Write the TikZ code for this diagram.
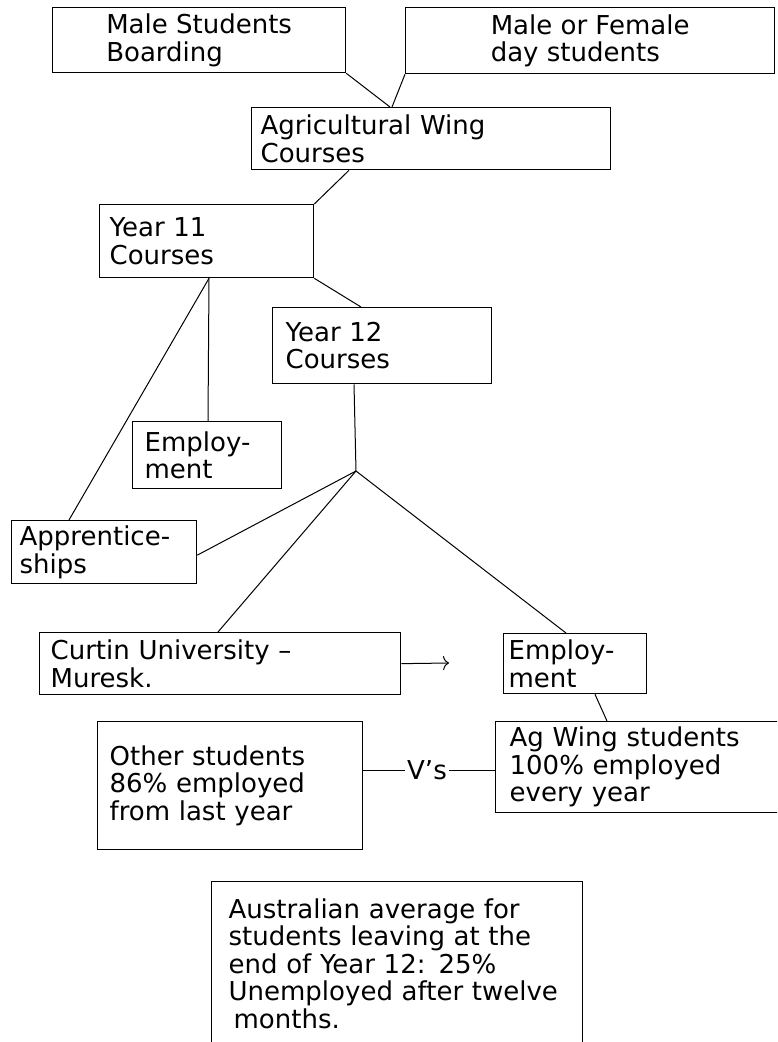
\documentclass[tikz,border=0pt]{standalone}
\usepackage{fontspec}
\setmainfont{DejaVu Sans}
\usetikzlibrary{arrows.meta}

\tikzstyle{box}=[draw, line width=1.3pt, anchor=north west, align=left, inner ysep=0pt, font=\fontsize{26}{27.5}\selectfont]

\begin{document}
\begin{tikzpicture}[x=1pt, y=-1pt, line width=1pt]
    \useasboundingbox (0,0) rectangle (777,1042);
    \clip (0,0) rectangle (777,1042);
    \node[box, minimum width=293pt, minimum height=65pt] (msb) at (52,7) {Male Students\\Boarding};
    \node[box, minimum width=369pt, minimum height=66pt] (mfd) at (405,7) {Male or Female\\day students};
    \node[box, text width=341pt, inner xsep=9pt, minimum height=62pt] (ag) at (251,107) {Agricultural Wing\\Courses};
    \node[box, text width=194pt, inner xsep=10pt, minimum height=73pt] (y11) at (99,204) {Year 11\\Courses};
    \node[box, text width=193pt, inner xsep=13pt, minimum height=76pt] (y12) at (272,307) {Year 12\\Courses};
    \node[box, text width=125pt, inner xsep=12pt, minimum height=67pt] (emp1) at (132,421) {Employ-\\ment};
    \node[box, text width=169pt, inner xsep=8pt, minimum height=63pt] (appr) at (11,520) {Apprentice-\\ships};
    \node[box, text width=339pt, inner xsep=11pt, minimum height=62pt] (curtin) at (39,632) {Curtin University --\\Muresk.};
    \node[box, text width=133pt, inner xsep=5pt, minimum height=60pt] (emp2) at (503,633) {Employ-\\ment};
    \node[box, text width=241pt, inner xsep=12pt, minimum height=128pt] (other) at (97,721) {Other students\\86\% employed\\from last year};
    \node[box, text width=272pt, inner xsep=14pt, minimum height=91pt] (agws) at (495,721) {Ag Wing students\\100\% employed\\every year};
    \node[box, text width=337pt, inner xsep=17pt, minimum height=164pt] (aus) at (211,881) {Australian average for\\students leaving at the\\end of Year 12: 25\%\\Unemployed after twelve\\\hspace{5pt}months.};
    \node[font=\fontsize{26}{27.5}\selectfont, inner xsep=2pt, inner ysep=0pt] (vs) at (427,770) {V's};
    \coordinate (j) at (356,471);
    \coordinate (arr) at (449,663);
    \path[draw]
    (msb.south east) edge ([xshift=139pt]ag.north west)
    (mfd.south west) edge ([xshift=141pt]ag.north west)
    ([xshift=98pt]ag.south west) edge (y11.north east)
    (y11.south east) edge ([xshift=89pt]y12.north west)
    ([xshift=110pt]y11.south west) edge ([xshift=76pt]emp1.north west)
    ([xshift=110pt]y11.south west) edge ([xshift=58pt]appr.north west)
    ([xshift=82pt]y12.south west) edge (j)
    (j) edge ([yshift=-3pt]appr.east)
    (j) edge ([xshift=179pt]curtin.north west)
    (j) edge ([xshift=63pt]emp2.north west)
    ([xshift=92pt]emp2.south west) edge ([xshift=112pt]agws.north west)
    (vs.west) edge (vs.west -| other.east)
    (vs.east) edge (vs.east -| agws.west)
    ;
    \draw[-{To[length=6pt,width=14pt]}] (curtin.east) -- (arr);
\end{tikzpicture}
\end{document}
